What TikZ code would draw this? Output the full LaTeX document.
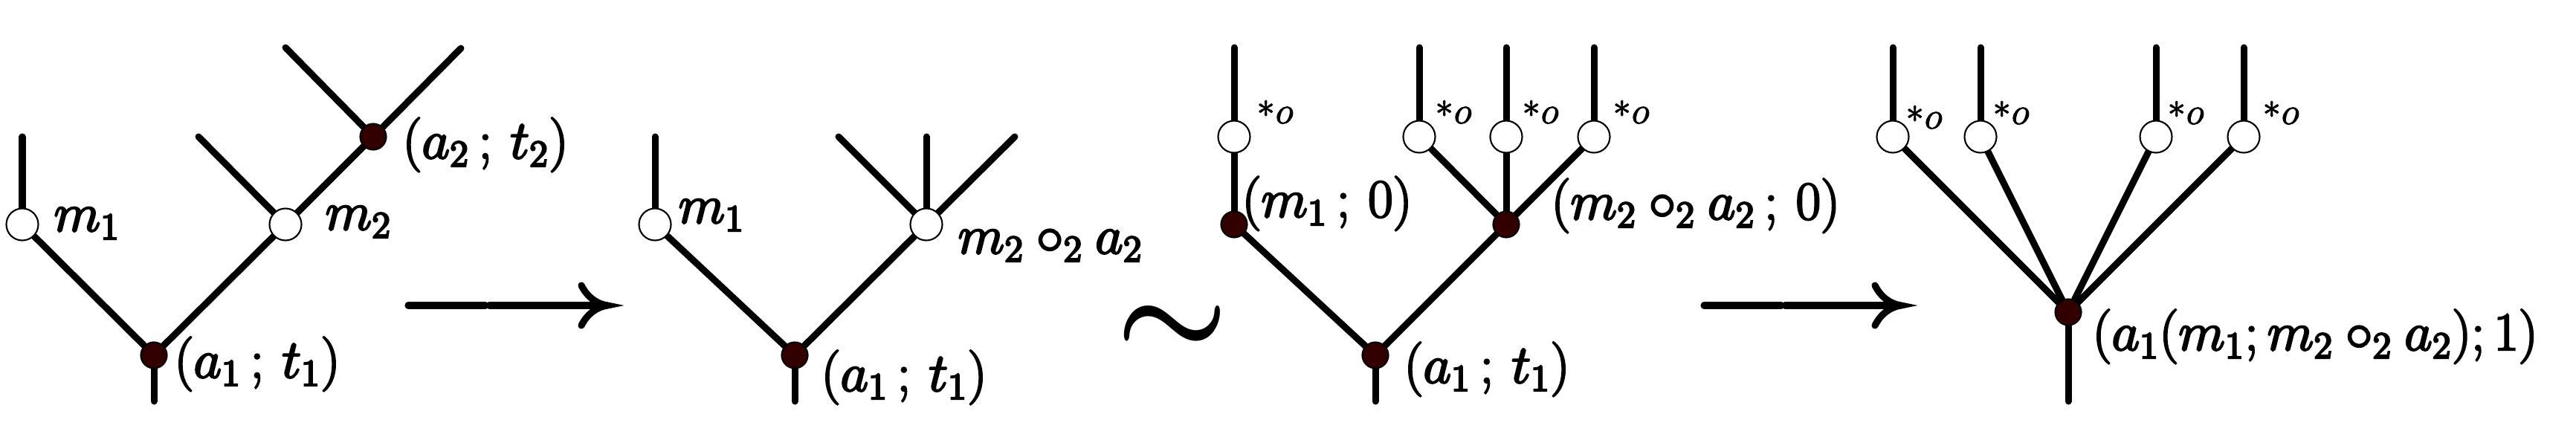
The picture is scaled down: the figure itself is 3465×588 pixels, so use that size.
\documentclass[tikz,border=0pt]{standalone}
\usepackage{amsmath}
\definecolor{dotred}{RGB}{51,0,0}
\pgfdeclarelayer{bg}
\pgfsetlayers{bg,main}
\newcommand{\heavytxt}[1]{\special{pdf:literal direct 2 Tr 0.7 w}#1\special{pdf:literal direct 0 Tr}}
\newcommand{\staro}{\special{pdf:literal direct 2 Tr 0.3 w}$\raisebox{2.4pt}{\scalebox{0.95}{$\ast$}}\kern0.3pt o$\special{pdf:literal direct 0 Tr}}
\begin{document}
\begin{tikzpicture}[x=0.01cm,y=-0.01cm,
  edge/.style={line width=2.56pt,line cap=round},
  wnode/.style={circle,draw,fill=white,line width=0.6pt,minimum size=0.43cm,inner sep=0pt},
  bnode/.style={circle,draw,fill=dotred,line width=0.6pt,minimum size=0.35cm,inner sep=0pt},
  lab/.style={anchor=base west,inner sep=0pt,font=\fontsize{21.2}{25}\selectfont},
  slab/.style={anchor=base west,inner sep=0pt,font=\fontsize{15}{18}\selectfont},
  arr/.style={line width=2.6pt,line cap=round}]
\useasboundingbox (0,0) rectangle (3465,588);

% ---------- panel 1 ----------
\node[bnode] (p1r) at (207,478) {};
\node[wnode] (p1m1) at (30,302) {};
\node[wnode] (p1m2) at (384,302) {};
\node[bnode] (p1a2) at (502,184) {};
\coordinate (p1s) at (207,540);
\coordinate (p1l1) at (30,184);
\coordinate (p1l2) at (267,184);
\coordinate (p1l3) at (384,64);
\coordinate (p1l4) at (620,65);
\begin{pgfonlayer}{bg}
\draw[edge] (p1r) -- (p1s);
\draw[edge] (p1r) -- (p1m1);
\draw[edge] (p1r) -- (p1m2);
\draw[edge] (p1m1) -- (p1l1);
\draw[edge] (p1m2) -- (p1l2);
\draw[edge] (p1m2) -- (p1a2);
\draw[edge] (p1a2) -- (p1l3);
\draw[edge] (p1a2) -- (p1l4);
\end{pgfonlayer}
\node[lab] (t1a) at (72,311) {\heavytxt{$m_1$}};
\node[lab] (t1b) at (437,309) {\heavytxt{$m_2$}};
\node[lab] (t1c) at (541,213) {\heavytxt{$(a_2\,;\,t_2)$}};
\node[lab] (t1d) at (234,508) {\heavytxt{$(a_1\,;\,t_1)$}};

% arrow 1
\coordinate (ar1a) at (549,411);
\coordinate (ar1b) at (653,411);
\coordinate (ar1c) at (658,411);
\coordinate (ar1d) at (815,411);
\coordinate (ar1t) at (817,411);
\draw[arr] (ar1a) -- (ar1b);
\draw[arr] (ar1c) -- (ar1d);
\draw[arr] (782,384) .. controls (790,400) and (803,409) .. (ar1t)
           .. controls (803,413) and (790,422) .. (782,438);

% ---------- panel 2 ----------
\node[bnode] (p2r) at (1069,478) {};
\node[wnode] (p2m1) at (881,302) {};
\node[wnode] (p2m2) at (1246,302) {};
\coordinate (p2s) at (1069,540);
\coordinate (p2l1) at (881,184);
\coordinate (p2l2) at (1128,184);
\coordinate (p2l3) at (1246,184);
\coordinate (p2l4) at (1365,184);
\begin{pgfonlayer}{bg}
\draw[edge] (p2r) -- (p2s);
\draw[edge] (p2r) -- (p2m1);
\draw[edge] (p2r) -- (p2m2);
\draw[edge] (p2m1) -- (p2l1);
\draw[edge] (p2m2) -- (p2l2);
\draw[edge] (p2m2) -- (p2l3);
\draw[edge] (p2m2) -- (p2l4);
\end{pgfonlayer}
\node[lab] (t2a) at (912,300) {\heavytxt{$m_1$}};
\node[lab] (t2b) at (1288,341) {\heavytxt{$m_2\circ_2 a_2$}};
\node[lab] (t2c) at (1104,526) {\heavytxt{$(a_1\,;\,t_1)$}};

% tilde
\node[inner sep=0pt] (tilde) at (1577,444) {\scalebox{4.8}{$\boldsymbol{\sim}$}};

% ---------- panel 3 ----------
\node[bnode] (p3r) at (1850,478) {};
\node[bnode] (p3d1) at (1660,302) {};
\node[bnode] (p3d2) at (2026,302) {};
\node[wnode] (p3c1) at (1660,184) {};
\node[wnode] (p3c2) at (1909,184) {};
\node[wnode] (p3c3) at (2026,184) {};
\node[wnode] (p3c4) at (2144,184) {};
\coordinate (p3s) at (1850,540);
\coordinate (p3l1) at (1660,64);
\coordinate (p3l2) at (1909,64);
\coordinate (p3l3) at (2026,64);
\coordinate (p3l4) at (2144,64);
\begin{pgfonlayer}{bg}
\draw[edge] (p3r) -- (p3s);
\draw[edge] (p3r) -- (p3d1);
\draw[edge] (p3r) -- (p3d2);
\draw[edge] (p3d1) -- (p3c1);
\draw[edge] (p3d2) -- (p3c2);
\draw[edge] (p3d2) -- (p3c3);
\draw[edge] (p3d2) -- (p3c4);
\draw[edge] (p3c1) -- (p3l1);
\draw[edge] (p3c2) -- (p3l2);
\draw[edge] (p3c3) -- (p3l3);
\draw[edge] (p3c4) -- (p3l4);
\end{pgfonlayer}
\node[slab] (s3a) at (1690,166) {\staro};
\node[slab] (s3b) at (1930,166) {\staro};
\node[slab] (s3c) at (2047,166) {\staro};
\node[slab] (s3d) at (2169,166) {\staro};
\node[lab] (t3a) at (1670,292) {\heavytxt{$(m_1\,;\,0)$}};
\node[lab] (t3b) at (2086,295) {\heavytxt{$(m_2\circ_2 a_2\,;\,0)$}};
\node[lab] (t3c) at (1888,515) {\heavytxt{$(a_1\,;\,t_1)$}};

% arrow 2
\coordinate (ar2a) at (2292,411);
\coordinate (ar2b) at (2396,411);
\coordinate (ar2c) at (2401,411);
\coordinate (ar2d) at (2555,411);
\coordinate (ar2t) at (2557,411);
\draw[arr] (ar2a) -- (ar2b);
\draw[arr] (ar2c) -- (ar2d);
\draw[arr] (2522,384) .. controls (2530,400) and (2543,409) .. (ar2t)
           .. controls (2543,413) and (2530,422) .. (2522,438);

% ---------- panel 4 ----------
\node[bnode] (p4r) at (2782,420) {};
\node[wnode] (p4c1) at (2546,184) {};
\node[wnode] (p4c2) at (2664,184) {};
\node[wnode] (p4c3) at (2900,184) {};
\node[wnode] (p4c4) at (3018,184) {};
\coordinate (p4s) at (2782,540);
\coordinate (p4l1) at (2546,64);
\coordinate (p4l2) at (2664,64);
\coordinate (p4l3) at (2900,64);
\coordinate (p4l4) at (3018,64);
\begin{pgfonlayer}{bg}
\draw[edge] (p4r) -- (p4s);
\draw[edge] (p4r) -- (p4c1);
\draw[edge] (p4r) -- (p4c2);
\draw[edge] (p4r) -- (p4c3);
\draw[edge] (p4r) -- (p4c4);
\draw[edge] (p4c1) -- (p4l1);
\draw[edge] (p4c2) -- (p4l2);
\draw[edge] (p4c3) -- (p4l3);
\draw[edge] (p4c4) -- (p4l4);
\end{pgfonlayer}
\node[slab] (s4a) at (2563,173) {\staro};
\node[slab] (s4b) at (2680,167) {\staro};
\node[slab] (s4c) at (2915,167) {\staro};
\node[slab] (s4d) at (3043,167) {\staro};
\node[lab] (t4a) at (2814,471) {\heavytxt{$(a_1(m_1;m_2\circ_2 a_2);1)$}};
\end{tikzpicture}
\end{document}
